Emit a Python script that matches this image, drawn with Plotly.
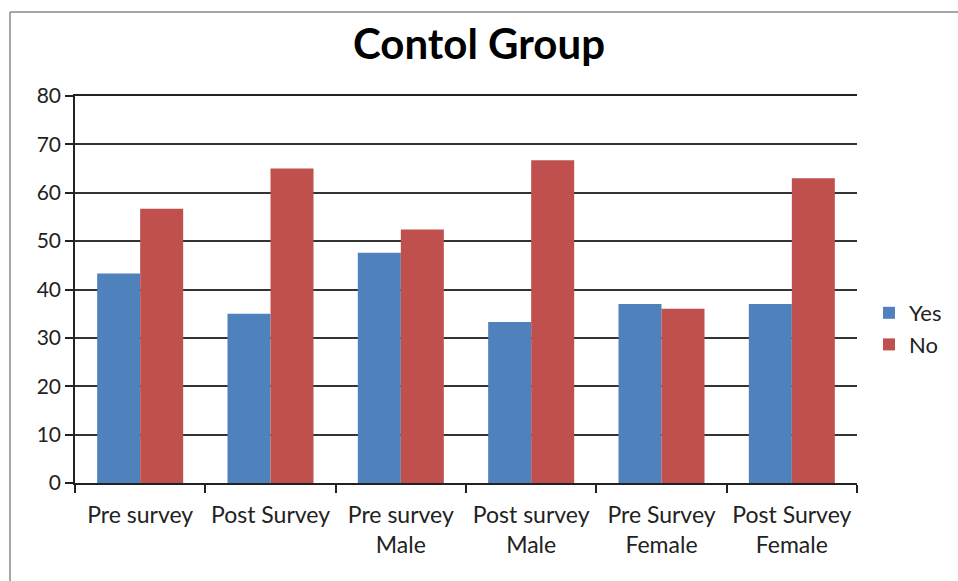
import plotly.graph_objects as go

categories = ["Pre survey", "Post Survey", "Pre survey<br>Male", "Post survey<br>Male",
              "Pre Survey<br>Female", "Post Survey<br>Female"]
yes_values = [43.3, 35.0, 47.6, 33.3, 37.0, 37.0]
no_values = [56.7, 65.0, 52.4, 66.7, 36.0, 63.0]
y_ticks = [0, 10, 20, 30, 40, 50, 60, 70, 80]

FONT = "Lato, 'Open Sans', sans-serif"

fig = go.Figure()
fig.add_trace(go.Bar(name="Yes", x=categories, y=yes_values, marker_color="#4F81BD",
                     marker_line_width=0))
fig.add_trace(go.Bar(name="No", x=categories, y=no_values, marker_color="#C0504D",
                     marker_line_width=0))

W, H = 958, 581
L, R, T, B = 75, 101, 96, 98
pw, ph = W - L - R, H - T - B

fig.update_layout(
    width=W, height=H,
    margin=dict(l=L, r=R, t=T, b=B, autoexpand=False),
    paper_bgcolor="white", plot_bgcolor="white",
    barmode="group", bargap=0.34, bargroupgap=0,
    title=dict(text="<b>Contol Group</b>", x=0.5, xanchor="center", y=1 - 44 / H,
               yanchor="middle", font=dict(family=FONT, size=42, color="black")),
    font=dict(family=FONT, size=22, color="#222"),
    legend=dict(x=(869 - L) / pw, xanchor="left", y=(483 - 329) / ph, yanchor="middle",
                font=dict(family=FONT, size=22, color="#222"),
                itemwidth=30, tracegroupgap=0, bgcolor="rgba(0,0,0,0)"),
    xaxis=dict(showline=True, linecolor="#222", linewidth=1.5, mirror=True, ticks="outside",
               tickson="boundaries", ticklen=8, tickcolor="#222", tickwidth=1.5,
               ticklabelstandoff=11,
               tickfont=dict(family=FONT, size=23, color="#222"), showgrid=False),
    yaxis=dict(range=[0, 80], tickvals=y_ticks, showline=True, linecolor="#222",
               linewidth=1.5, ticks="outside", ticklen=8, tickcolor="#222",
               tickwidth=1.5, showgrid=True, gridcolor="#333", gridwidth=1.5,
               zeroline=False, tickfont=dict(family=FONT, size=21, color="#222")),
    shapes=[
        dict(type="line", xref="paper", yref="paper",
             x0=(10 - L) / pw, x1=(W + 5 - L) / pw, y0=(H - B - 12) / ph, y1=(H - B - 12) / ph,
             line=dict(color="#888", width=1.5)),
        dict(type="line", xref="paper", yref="paper",
             x0=(10 - L) / pw, x1=(10 - L) / pw, y0=(H - B - 12) / ph, y1=(H - B - H - 5) / ph,
             line=dict(color="#888", width=1.5)),
    ],
)

fig.write_html("out.html")
